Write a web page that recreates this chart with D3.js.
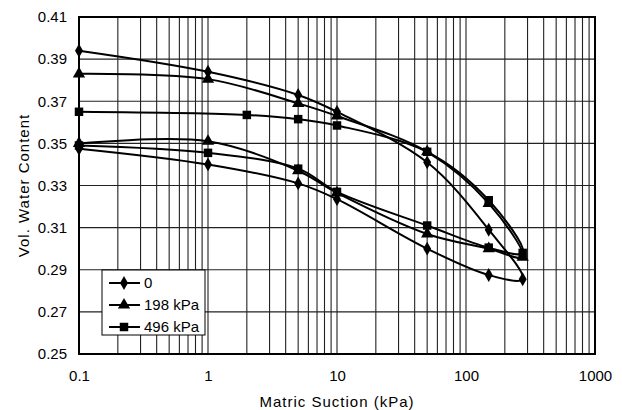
<!DOCTYPE html>
<html><head><meta charset="utf-8">
<script src="https://cdn.jsdelivr.net/npm/d3@7"></script>
<style>body{margin:0;background:#fff}svg{display:block}text{font-family:"Liberation Sans",Arial,sans-serif;fill:#000}</style>
</head><body><div id="chart"></div>
<script>
const suction0 = [0.1, 1, 5, 10, 50, 150, 275, 150, 50, 10, 5, 1, 0.1];
const water0   = [0.394, 0.384, 0.373, 0.365, 0.341, 0.309, 0.2855, 0.2875, 0.300, 0.3235, 0.331, 0.340, 0.3475];
const suction198 = [0.1, 1, 5, 10, 50, 150, 275, 150, 50, 10, 5, 1, 0.1];
const water198   = [0.383, 0.3805, 0.369, 0.363, 0.346, 0.3215, 0.296, 0.300, 0.307, 0.3265, 0.337, 0.351, 0.350];
const suction496 = [0.1, 2, 5, 10, 50, 150, 275, 150, 50, 10, 5, 1, 0.1];
const water496   = [0.365, 0.3635, 0.3615, 0.3585, 0.346, 0.323, 0.298, 0.3005, 0.311, 0.327, 0.338, 0.3455, 0.349];
const seriesNames = ["0", "198 kPa", "496 kPa"];
const xTicks = [0.1, 1, 10, 100, 1000];
const yTicks = [0.25, 0.27, 0.29, 0.31, 0.33, 0.35, 0.37, 0.39, 0.41];

const W = 622, H = 410;
const m = {l: 79, t: 17, r: 27, b: 56};
const svg = d3.select("#chart").append("svg").attr("width", W).attr("height", H);
const x = d3.scaleLog().domain([0.1, 1000]).range([m.l, W - m.r]);
const y = d3.scaleLinear().domain([0.25, 0.41]).range([H - m.b, m.t]);

// grid
const minor = [];
for (let d = 0.1; d < 1000; d *= 10) for (let k = 2; k <= 9; k++) minor.push(d * k);
const g = svg.append("g");
g.selectAll(".vm").data(minor.concat(xTicks)).join("line")
  .attr("x1", d => x(d)).attr("x2", d => x(d)).attr("y1", m.t).attr("y2", H - m.b)
  .attr("stroke", "#222").attr("stroke-width", 1.1);
g.selectAll(".hg").data(yTicks).join("line")
  .attr("x1", m.l).attr("x2", W - m.r).attr("y1", d => y(d)).attr("y2", d => y(d))
  .attr("stroke", "#222").attr("stroke-width", 1.1);
svg.append("rect").attr("x", m.l).attr("y", m.t).attr("width", W - m.r - m.l).attr("height", H - m.b - m.t)
  .attr("fill", "none").attr("stroke", "#000").attr("stroke-width", 2);

// axes
const xa = svg.append("g").attr("transform", `translate(0,${H - m.b})`)
  .call(d3.axisBottom(x).tickValues(xTicks).tickFormat(d => String(d)).tickSize(0).tickPadding(16));
const ya = svg.append("g").attr("transform", `translate(${m.l},0)`)
  .call(d3.axisLeft(y).tickValues(yTicks).tickFormat(d3.format(".2f")).tickSize(0).tickPadding(12));
[xa, ya].forEach(a => { a.select(".domain").remove(); a.selectAll("text").attr("font-size", 15).attr("font-family", "Liberation Sans, Arial, sans-serif"); });

svg.append("text").attr("x", (m.l + W - m.r) / 2).attr("y", 407).attr("text-anchor", "middle")
  .attr("font-size", 15).attr("letter-spacing", 1).text("Matric Suction (kPa)");
svg.append("text").attr("transform", `translate(29,${(m.t + H - m.b) / 2}) rotate(-90)`).attr("text-anchor", "middle")
  .attr("font-size", 15).attr("letter-spacing", 1).text("Vol. Water Content");

// series
const series = [
  {name: seriesNames[0], xs: suction0, ys: water0, sym: d3.symbolDiamond, size: 55},
  {name: seriesNames[1], xs: suction198, ys: water198, sym: d3.symbolTriangle, size: 65},
  {name: seriesNames[2], xs: suction496, ys: water496, sym: d3.symbolSquare, size: 72}
];
const line = d3.line().x(d => x(d[0])).y(d => y(d[1])).curve(d3.curveCatmullRom.alpha(0.5));
series.forEach(s => {
  const pts = s.xs.map((v, i) => [v, s.ys[i]]);
  svg.append("path").datum(pts).attr("d", line).attr("fill", "none").attr("stroke", "#000").attr("stroke-width", 2);
  svg.selectAll(null).data(pts).join("path")
    .attr("transform", d => `translate(${x(d[0])},${y(d[1])})`)
    .attr("d", d3.symbol().type(s.sym).size(s.size)).attr("fill", "#000");
});

// legend
const lg = svg.append("g").attr("transform", "translate(102,270)");
lg.append("rect").attr("width", 103).attr("height", 65).attr("fill", "#fff").attr("stroke", "#000").attr("stroke-width", 1);
series.forEach((s, i) => {
  const yy = 13 + i * 22;
  lg.append("line").attr("x1", 7).attr("x2", 38).attr("y1", yy).attr("y2", yy).attr("stroke", "#000").attr("stroke-width", 2);
  lg.append("path").attr("transform", `translate(22,${yy})`).attr("d", d3.symbol().type(s.sym).size(s.size)).attr("fill", "#000");
  lg.append("text").attr("x", 42).attr("y", yy + 5).attr("font-size", 15).text(s.name);
});
</script></body></html>
